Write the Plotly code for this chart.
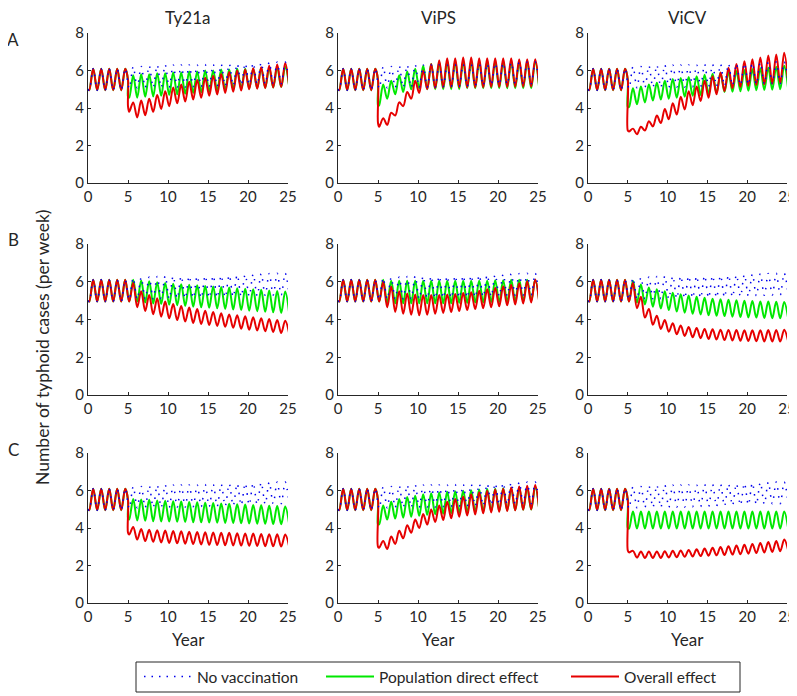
import plotly.graph_objects as go

# ---------------- data ----------------
vaccines = ["Ty21a", "ViPS", "ViCV"]
rows = ["A", "B", "C"]

start_value = 5.0
trough_phase = 0.15   # within-year time of seasonal minimum
peak_phase = 0.65     # within-year time of seasonal maximum
vacc_year = 5.0
pre_drop_value = 5.5

# no vaccination: troughs for years 0..25, peaks for years 0..24
base_troughs = [4.95, 4.95, 4.95, 4.95, 4.95, 5.05, 5.08, 5.1, 5.1, 5.1, 5.1, 5.12, 5.12,
                5.14, 5.14, 5.15, 5.16, 5.18, 5.2, 5.22, 5.24, 5.26, 5.28, 5.3, 5.3, 5.3]
base_peaks = [6.1, 6.1, 6.1, 6.1, 6.1, 6.2, 6.22, 6.25, 6.28, 6.3, 6.3, 6.3, 6.3,
              6.3, 6.32, 6.32, 6.33, 6.35, 6.36, 6.38, 6.4, 6.42, 6.44, 6.45, 6.45]

# post-vaccination: troughs years 5..25, peaks years 5..24
# Row A
A_Ty21a_direct_drop = 4.6
A_Ty21a_direct_troughs = [4.55, 4.55, 4.6, 4.62, 4.65, 4.7, 4.73, 4.76, 4.8, 4.84, 4.88, 4.92, 4.96,
                          5.0, 5.02, 5.04, 5.06, 5.08, 5.1, 5.12, 5.14]
A_Ty21a_direct_peaks = [5.75, 5.8, 5.8, 5.85, 5.85, 5.9, 5.9, 5.95, 5.95, 6.0, 6.0, 6.05, 6.05, 6.1,
                        6.1, 6.1, 6.15, 6.15, 6.2, 6.2]
A_Ty21a_overall_drop = 4.1
A_Ty21a_overall_troughs = [3.8, 3.5, 3.62, 3.8, 3.95, 4.1, 4.25, 4.35, 4.45, 4.55, 4.65, 4.72, 4.8,
                           4.87, 4.93, 5.0, 5.03, 5.06, 5.1, 5.12, 5.15]
A_Ty21a_overall_peaks = [4.3, 4.4, 4.5, 4.7, 4.9, 5.1, 5.25, 5.4, 5.5, 5.62, 5.72, 5.82, 5.92, 6.0,
                         6.06, 6.12, 6.18, 6.25, 6.32, 6.4]

A_ViPS_direct_drop = 4.1
A_ViPS_direct_troughs = [4.15, 4.5, 4.73, 4.85, 5.0, 5.05, 5.0, 5.0, 5.0, 5.0, 5.0, 5.05, 5.05,
                         5.05, 5.05, 5.05, 5.05, 5.05, 5.05, 5.05, 5.05]
A_ViPS_direct_peaks = [5.25, 5.45, 5.75, 5.95, 6.1, 6.25, 6.35, 6.45, 6.5, 6.5, 6.5, 6.5, 6.5, 6.5,
                       6.5, 6.5, 6.5, 6.5, 6.5, 6.5]
A_ViPS_overall_drop = 3.2
A_ViPS_overall_troughs = [3.0, 3.1, 3.6, 4.1, 4.5, 4.8, 5.0, 5.05, 5.1, 5.1, 5.1, 5.1, 5.1, 5.1,
                          5.12, 5.12, 5.12, 5.14, 5.14, 5.15, 5.15]
A_ViPS_overall_peaks = [3.45, 3.75, 4.3, 4.85, 5.45, 6.0, 6.35, 6.55, 6.65, 6.65, 6.7, 6.7, 6.65,
                        6.65, 6.65, 6.65, 6.65, 6.6, 6.6, 6.6]

A_ViCV_direct_drop = 4.05
A_ViCV_direct_troughs = [4.05, 4.2, 4.3, 4.4, 4.45, 4.5, 4.55, 4.6, 4.65, 4.7, 4.75, 4.8, 4.85,
                         4.87, 4.9, 4.92, 4.95, 4.96, 4.98, 5.0, 5.0]
A_ViCV_direct_peaks = [5.05, 5.15, 5.25, 5.35, 5.45, 5.55, 5.6, 5.65, 5.7, 5.78, 5.83, 5.88, 5.93,
                       5.98, 6.03, 6.08, 6.12, 6.16, 6.2, 6.25]
A_ViCV_overall_drop = 2.8
A_ViCV_overall_troughs = [2.75, 2.6, 2.8, 3.02, 3.2, 3.4, 3.65, 3.92, 4.15, 4.37, 4.55, 4.73, 4.9,
                          5.05, 5.12, 5.18, 5.22, 5.26, 5.3, 5.33, 5.35]
A_ViCV_overall_peaks = [2.9, 3.0, 3.3, 3.6, 3.95, 4.25, 4.6, 4.9, 5.15, 5.45, 5.7, 5.9, 6.15, 6.35,
                        6.5, 6.6, 6.7, 6.8, 6.85, 6.95]

# Row B (no step at year 5)
B_Ty21a_direct_troughs = [4.95, 4.95, 4.9, 4.85, 4.82, 4.78, 4.75, 4.72, 4.68, 4.65, 4.62, 4.59,
                          4.56, 4.53, 4.5, 4.47, 4.44, 4.41, 4.38, 4.35, 4.33]
B_Ty21a_direct_peaks = [6.1, 6.06, 6.02, 5.98, 5.94, 5.9, 5.87, 5.84, 5.81, 5.78, 5.75, 5.72, 5.69,
                        5.66, 5.63, 5.6, 5.57, 5.54, 5.51, 5.48]
B_Ty21a_overall_troughs = [4.95, 4.65, 4.45, 4.28, 4.15, 4.06, 3.97, 3.89, 3.82, 3.76, 3.71, 3.66,
                           3.61, 3.56, 3.51, 3.46, 3.42, 3.38, 3.34, 3.28, 3.25]
B_Ty21a_overall_peaks = [5.95, 5.5, 5.3, 5.12, 4.95, 4.82, 4.72, 4.63, 4.55, 4.47, 4.4, 4.33, 4.27,
                         4.22, 4.17, 4.12, 4.07, 4.02, 3.98, 3.94]

B_ViPS_direct_troughs = [4.95, 4.9, 4.86, 4.86, 4.86, 4.86, 4.86, 4.86, 4.86, 4.86, 4.88, 4.88,
                         4.9, 4.9, 4.92, 4.93, 4.94, 4.96, 4.97, 4.98, 5.0]
B_ViPS_direct_peaks = [6.1, 6.05, 6.05, 6.05, 6.05, 6.05, 6.05, 6.05, 6.05, 6.05, 6.05, 6.05, 6.05,
                       6.05, 6.08, 6.08, 6.1, 6.1, 6.1, 6.1]
B_ViPS_overall_troughs = [4.95, 4.65, 4.4, 4.3, 4.25, 4.22, 4.25, 4.3, 4.35, 4.4, 4.45, 4.5, 4.55,
                          4.6, 4.65, 4.7, 4.75, 4.8, 4.85, 4.9, 4.92]
B_ViPS_overall_peaks = [6.0, 5.75, 5.5, 5.38, 5.32, 5.3, 5.3, 5.3, 5.32, 5.35, 5.4, 5.45, 5.52,
                        5.6, 5.68, 5.76, 5.84, 5.92, 6.02, 6.12]

B_ViCV_direct_troughs = [4.95, 4.9, 4.8, 4.68, 4.58, 4.5, 4.42, 4.36, 4.3, 4.26, 4.23, 4.2, 4.18,
                         4.15, 4.13, 4.11, 4.1, 4.08, 4.07, 4.06, 4.05]
B_ViCV_direct_peaks = [6.05, 5.85, 5.7, 5.6, 5.5, 5.42, 5.34, 5.27, 5.2, 5.15, 5.1, 5.07, 5.04,
                       5.02, 5.0, 4.98, 4.96, 4.95, 4.94, 4.93]
B_ViCV_overall_troughs = [4.95, 4.6, 4.1, 3.72, 3.5, 3.35, 3.22, 3.13, 3.06, 3.01, 2.97, 2.94, 2.91,
                          2.89, 2.87, 2.86, 2.85, 2.84, 2.83, 2.83, 2.83]
B_ViCV_overall_peaks = [5.95, 5.2, 4.55, 4.2, 3.97, 3.8, 3.68, 3.6, 3.55, 3.5, 3.48, 3.46, 3.45,
                        3.44, 3.43, 3.43, 3.43, 3.44, 3.45, 3.46]

# Row C
C_Ty21a_direct_drop = 4.55
C_Ty21a_direct_troughs = [4.45, 4.4, 4.38, 4.36, 4.35, 4.34, 4.33, 4.32, 4.31, 4.3, 4.29, 4.28,
                          4.27, 4.26, 4.25, 4.24, 4.23, 4.22, 4.21, 4.2, 4.2]
C_Ty21a_direct_peaks = [5.55, 5.52, 5.5, 5.47, 5.45, 5.43, 5.41, 5.39, 5.37, 5.35, 5.33, 5.31,
                        5.29, 5.27, 5.25, 5.23, 5.21, 5.19, 5.17, 5.15]
C_Ty21a_overall_drop = 3.75
C_Ty21a_overall_troughs = [3.65, 3.38, 3.3, 3.26, 3.23, 3.2, 3.18, 3.16, 3.14, 3.12, 3.1, 3.09,
                           3.08, 3.07, 3.06, 3.05, 3.04, 3.03, 3.02, 3.01, 3.0]
C_Ty21a_overall_peaks = [4.05, 3.95, 3.9, 3.88, 3.86, 3.84, 3.82, 3.8, 3.78, 3.77, 3.76, 3.75,
                         3.74, 3.72, 3.71, 3.7, 3.68, 3.67, 3.66, 3.65]

C_ViPS_direct_drop = 4.2
C_ViPS_direct_troughs = [4.2, 4.45, 4.5, 4.55, 4.6, 4.65, 4.7, 4.73, 4.76, 4.79, 4.82, 4.84, 4.86,
                         4.88, 4.9, 4.92, 4.94, 4.95, 4.97, 4.98, 5.0]
C_ViPS_direct_peaks = [5.2, 5.4, 5.55, 5.65, 5.72, 5.8, 5.85, 5.89, 5.93, 5.96, 5.99, 6.02, 6.05,
                       6.08, 6.1, 6.12, 6.14, 6.16, 6.18, 6.2]
C_ViPS_overall_drop = 3.0
C_ViPS_overall_troughs = [2.95, 2.88, 3.15, 3.45, 3.75, 4.0, 4.18, 4.32, 4.43, 4.52, 4.6, 4.66,
                          4.72, 4.78, 4.83, 4.87, 4.91, 4.94, 4.97, 4.99, 5.0]
C_ViPS_overall_peaks = [3.3, 3.55, 3.85, 4.15, 4.45, 4.75, 4.98, 5.2, 5.4, 5.55, 5.68, 5.8, 5.9,
                        5.98, 6.05, 6.1, 6.16, 6.21, 6.26, 6.3]

C_ViCV_direct_drop = 4.0
C_ViCV_direct_troughs = [3.97] * 21
C_ViCV_direct_peaks = [4.88] * 20
C_ViCV_overall_drop = 2.8
C_ViCV_overall_troughs = [2.7, 2.42, 2.4, 2.4, 2.4, 2.42, 2.44, 2.46, 2.48, 2.5, 2.52, 2.54, 2.56,
                          2.58, 2.6, 2.63, 2.66, 2.69, 2.72, 2.76, 2.8]
C_ViCV_overall_peaks = [2.78, 2.75, 2.74, 2.75, 2.76, 2.78, 2.8, 2.83, 2.86, 2.9, 2.94, 2.98, 3.02,
                        3.06, 3.1, 3.15, 3.2, 3.25, 3.3, 3.38]

x_ticks = [0, 5, 10, 15, 20, 25]
y_ticks = [0, 2, 4, 6, 8]

# ---------------- helpers ----------------
def baseline_xy():
    xs, ys = [0.0], [start_value]
    for k in range(25):
        xs += [k + trough_phase, k + peak_phase]
        ys += [base_troughs[k], base_peaks[k]]
    xs.append(25 + trough_phase)
    ys.append(base_troughs[25])
    return xs, ys


def vaccinated_xy(troughs, peaks, drop=None):
    xs, ys = [0.0], [start_value]
    for k in range(5):
        xs += [k + trough_phase, k + peak_phase]
        ys += [base_troughs[k], base_peaks[k]]
    if drop is not None:
        xs += [vacc_year, vacc_year]
        ys += [pre_drop_value, drop]
    for j, k in enumerate(range(5, 25)):
        xs += [k + trough_phase, k + peak_phase]
        ys += [troughs[j], peaks[j]]
    xs.append(25 + trough_phase)
    ys.append(troughs[20])
    return xs, ys


panels = {
    ("A", "Ty21a"): (A_Ty21a_direct_troughs, A_Ty21a_direct_peaks, A_Ty21a_direct_drop,
                     A_Ty21a_overall_troughs, A_Ty21a_overall_peaks, A_Ty21a_overall_drop),
    ("A", "ViPS"): (A_ViPS_direct_troughs, A_ViPS_direct_peaks, A_ViPS_direct_drop,
                    A_ViPS_overall_troughs, A_ViPS_overall_peaks, A_ViPS_overall_drop),
    ("A", "ViCV"): (A_ViCV_direct_troughs, A_ViCV_direct_peaks, A_ViCV_direct_drop,
                    A_ViCV_overall_troughs, A_ViCV_overall_peaks, A_ViCV_overall_drop),
    ("B", "Ty21a"): (B_Ty21a_direct_troughs, B_Ty21a_direct_peaks, None,
                     B_Ty21a_overall_troughs, B_Ty21a_overall_peaks, None),
    ("B", "ViPS"): (B_ViPS_direct_troughs, B_ViPS_direct_peaks, None,
                    B_ViPS_overall_troughs, B_ViPS_overall_peaks, None),
    ("B", "ViCV"): (B_ViCV_direct_troughs, B_ViCV_direct_peaks, None,
                    B_ViCV_overall_troughs, B_ViCV_overall_peaks, None),
    ("C", "Ty21a"): (C_Ty21a_direct_troughs, C_Ty21a_direct_peaks, C_Ty21a_direct_drop,
                     C_Ty21a_overall_troughs, C_Ty21a_overall_peaks, C_Ty21a_overall_drop),
    ("C", "ViPS"): (C_ViPS_direct_troughs, C_ViPS_direct_peaks, C_ViPS_direct_drop,
                    C_ViPS_overall_troughs, C_ViPS_overall_peaks, C_ViPS_overall_drop),
    ("C", "ViCV"): (C_ViCV_direct_troughs, C_ViCV_direct_peaks, C_ViCV_direct_drop,
                    C_ViCV_overall_troughs, C_ViCV_overall_peaks, C_ViCV_overall_drop),
}

# ---------------- layout geometry (screen pixels; page body has an 8px margin) ----------------
OFF = 8
W, H = 797 - OFF, 696 - OFF
col_px = [(88, 288), (338, 538), (588, 787)]
row_px = [(33, 183), (244, 395), (453, 603)]


def px(x):
    return (x - OFF) / W


def py(y):
    return 1 - (y - OFF) / H


FONT = "Lato, 'Open Sans', sans-serif"
TXT = "#262626"
GREEN = "#00e800"
RED = "#e60000"
BLUE = "#0000ee"

fig = go.Figure()
layout = dict(
    width=W, height=H, margin=dict(l=0, r=0, t=0, b=0, autoexpand=False),
    paper_bgcolor="white", plot_bgcolor="white",
    font=dict(family=FONT, size=15, color=TXT),
    showlegend=True,
)

legend_ids = {"No vaccination": "legend", "Population direct effect": "legend2",
              "Overall effect": "legend3"}

bx, by = baseline_xy()
for r, rname in enumerate(rows):
    for c, vname in enumerate(vaccines):
        i = r * 3 + c
        sfx = "" if i == 0 else str(i + 1)
        xa, ya = "x" + sfx, "y" + sfx
        dt, dp, dd, ot, op, od = panels[(rname, vname)]
        gx, gy = vaccinated_xy(dt, dp, dd)
        rx, ry = vaccinated_xy(ot, op, od)
        first = i == 0
        fig.add_trace(go.Scatter(x=gx, y=gy, mode="lines", xaxis=xa, yaxis=ya,
                                 line=dict(color=GREEN, width=2, shape="spline"),
                                 name="Population direct effect",
                                 legend=legend_ids["Population direct effect"],
                                 showlegend=first, hoverinfo="skip"))
        fig.add_trace(go.Scatter(x=rx, y=ry, mode="lines", xaxis=xa, yaxis=ya,
                                 line=dict(color=RED, width=2, shape="spline"),
                                 name="Overall effect", legend=legend_ids["Overall effect"],
                                 showlegend=first, hoverinfo="skip"))
        fig.add_trace(go.Scatter(x=bx, y=by, mode="lines", xaxis=xa, yaxis=ya,
                                 line=dict(color=BLUE, width=1.5, shape="spline", dash="1.5px,6px"),
                                 name="No vaccination", legend=legend_ids["No vaccination"],
                                 showlegend=first, hoverinfo="skip"))
        x0, x1 = col_px[c]
        y0, y1 = row_px[r]
        common = dict(showgrid=False, zeroline=False, showline=True, linecolor=TXT, linewidth=1,
                      ticks="inside", ticklen=3, tickcolor=TXT,
                      tickfont=dict(size=15, color=TXT), fixedrange=True, automargin=False)
        layout["xaxis" + sfx] = dict(domain=[px(x0), px(x1)], anchor=ya, range=[0, 25],
                                     tickvals=x_ticks, **common)
        layout["yaxis" + sfx] = dict(domain=[py(y1), py(y0)], anchor=xa, range=[0, 8],
                                     tickvals=y_ticks, **common)

annotations = []


def label(text, x, y, size=17, angle=0):
    annotations.append(dict(text=text, x=px(x), y=py(y), xref="paper", yref="paper",
                            xanchor="center", yanchor="middle", showarrow=False,
                            textangle=angle, font=dict(size=size, color=TXT)))


for c, vname in enumerate(vaccines):
    xc = (col_px[c][0] + col_px[c][1]) / 2
    label(vname, xc, 17)
    label("Year", xc, 639)
for r, rname in enumerate(rows):
    label(rname, 13, [40, 240, 449][r])
label("Number of typhoid cases (per week)", 42, 348, size=17.5, angle=-90)
layout["annotations"] = annotations

# legend frame
layout["shapes"] = [dict(type="rect", xref="paper", yref="paper",
                         x0=px(136), x1=px(740), y0=py(692), y1=py(662),
                         line=dict(color=TXT, width=1), fillcolor="white", layer="below")]

leg_common = dict(orientation="h", yanchor="middle", y=py(677), xanchor="left",
                  bgcolor="rgba(0,0,0,0)", borderwidth=0, font=dict(size=15.5, color=TXT),
                  itemclick=False, itemdoubleclick=False, itemwidth=48)
layout["legend"] = dict(x=px(139), **leg_common)
layout["legend2"] = dict(x=px(321), **leg_common)
layout["legend3"] = dict(x=px(566), **leg_common)

fig.update_layout(**layout)
fig.write_html("out.html")
